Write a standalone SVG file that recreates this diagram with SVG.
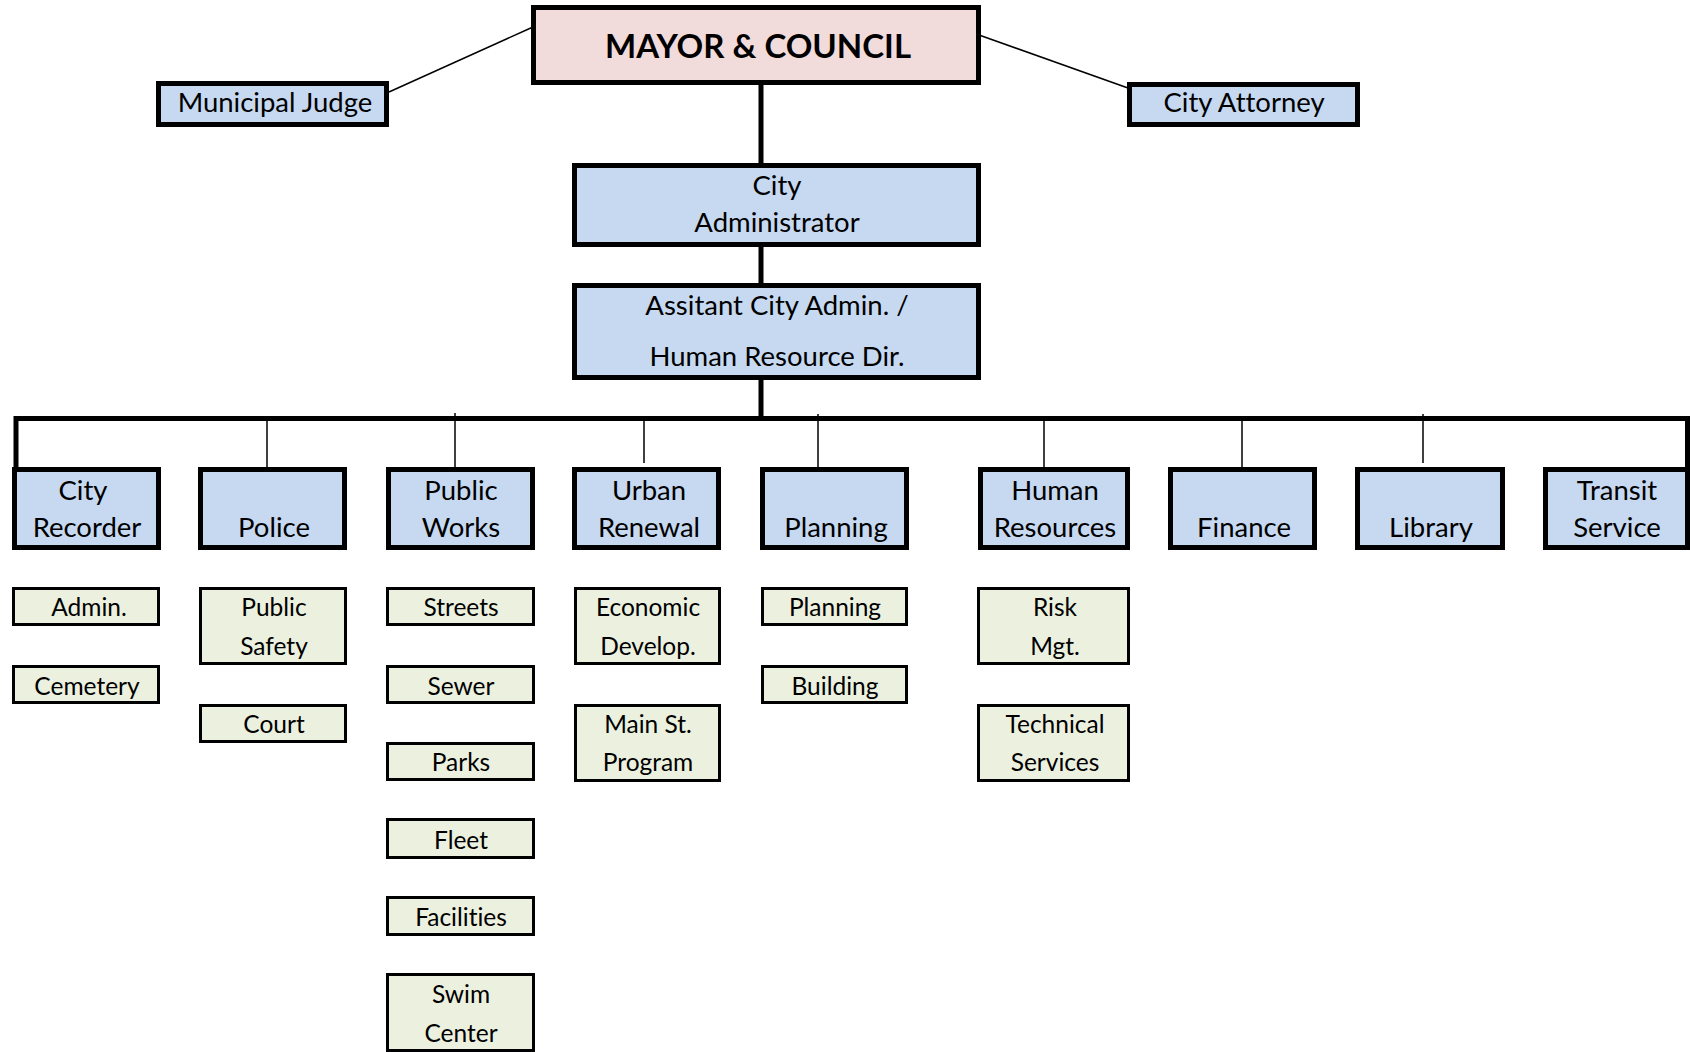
<svg xmlns="http://www.w3.org/2000/svg" width="1690" height="1052" viewBox="0 0 1690 1052">
<style>
.t{font-family:Lato,"Open Sans","Liberation Sans",sans-serif;fill:#000;text-anchor:middle;font-variant-ligatures:none;font-feature-settings:"liga" 0}
.m{font-size:27.5px}
.s{font-size:24.5px}
.b{font-size:33px;font-weight:bold}
.top{fill:#F2DCDB;stroke:#000;stroke-width:5}
.l2{fill:#C6D9F1;stroke:#000;stroke-width:5}
.l3{fill:#EBF1DE;stroke:#000;stroke-width:3}
.thin{stroke:#000;stroke-width:1.5;fill:none}
.thick{stroke:#000;stroke-width:5;fill:none}
</style>
<rect width="1690" height="1052" fill="#fff"/>
<g id="connectors">
<line class="thin" x1="389" y1="92" x2="533" y2="27"/>
<line class="thin" x1="979" y1="35" x2="1128" y2="88"/>
<line class="thick" x1="761" y1="84" x2="761" y2="421"/>
<path class="thick" d="M16 470 V418.5 H1687.5 V470"/>
<line class="thin" x1="267" y1="421" x2="267" y2="468"/>
<line class="thin" x1="455" y1="413" x2="455" y2="468"/>
<line class="thin" x1="644" y1="421" x2="644" y2="463"/>
<line class="thin" x1="818" y1="414" x2="818" y2="468"/>
<line class="thin" x1="1044" y1="421" x2="1044" y2="468"/>
<line class="thin" x1="1242" y1="421" x2="1242" y2="468"/>
<line class="thin" x1="1423" y1="414" x2="1423" y2="463"/>
</g>
<g id="mayor"><rect class="top" x="533.5" y="7.5" width="445" height="75"/><text class="t b" x="758" y="58">MAYOR &amp; COUNCIL</text></g>
<g id="judge"><rect class="l2" x="158.5" y="83.5" width="228" height="41"/><text class="t m" x="275" y="112">Municipal Judge</text></g>
<g id="attorney"><rect class="l2" x="1129.5" y="84.5" width="228" height="40"/><text class="t m" x="1244" y="112">City Attorney</text></g>
<g id="city-admin"><rect class="l2" x="574.5" y="165.5" width="404" height="79"/><text class="t m" x="777" y="195">City</text><text class="t m" x="777" y="232">Administrator</text></g>
<g id="asst-admin"><rect class="l2" x="574.5" y="285.5" width="404" height="92"/><text class="t m" x="777" y="315">Assitant City Admin. /</text><text class="t m" x="777" y="366">Human Resource Dir.</text></g>

<g id="city-recorder"><rect class="l2" x="14.5" y="469.5" width="144" height="78"/><text class="t m" x="83" y="500">City</text><text class="t m" x="87" y="537">Recorder</text></g>
<g id="police"><rect class="l2" x="200.5" y="469.5" width="144" height="78"/><text class="t m" x="274" y="537">Police</text></g>
<g id="public-works"><rect class="l2" x="388.5" y="469.5" width="144" height="78"/><text class="t m" x="461" y="500">Public</text><text class="t m" x="461" y="537">Works</text></g>
<g id="urban-renewal"><rect class="l2" x="574.5" y="469.5" width="144" height="78"/><text class="t m" x="649" y="500">Urban</text><text class="t m" x="649" y="537">Renewal</text></g>
<g id="planning"><rect class="l2" x="762.5" y="469.5" width="144" height="78"/><text class="t m" x="836" y="537">Planning</text></g>
<g id="human-resources"><rect class="l2" x="980.5" y="469.5" width="147" height="78"/><text class="t m" x="1055" y="500">Human</text><text class="t m" x="1055" y="537">Resources</text></g>
<g id="finance"><rect class="l2" x="1170.5" y="469.5" width="144" height="78"/><text class="t m" x="1244" y="537">Finance</text></g>
<g id="library"><rect class="l2" x="1357.5" y="469.5" width="145" height="78"/><text class="t m" x="1431" y="537">Library</text></g>
<g id="transit"><rect class="l2" x="1545.5" y="469.5" width="142" height="78"/><text class="t m" x="1617" y="500">Transit</text><text class="t m" x="1617" y="537">Service</text></g>

<g id="admin"><rect class="l3" x="13.5" y="588.5" width="145" height="36"/><text class="t s" x="89" y="616">Admin.</text></g>
<g id="cemetery"><rect class="l3" x="13.5" y="666.5" width="145" height="36"/><text class="t s" x="87" y="695">Cemetery</text></g>
<g id="public-safety"><rect class="l3" x="200.5" y="588.5" width="145" height="75"/><text class="t s" x="274" y="616">Public</text><text class="t s" x="274" y="655">Safety</text></g>
<g id="court"><rect class="l3" x="200.5" y="705.5" width="145" height="36"/><text class="t s" x="274" y="733">Court</text></g>
<g id="streets"><rect class="l3" x="387.5" y="588.5" width="146" height="36"/><text class="t s" x="461" y="616">Streets</text></g>
<g id="sewer"><rect class="l3" x="387.5" y="666.5" width="146" height="36"/><text class="t s" x="461" y="695">Sewer</text></g>
<g id="parks"><rect class="l3" x="387.5" y="743.5" width="146" height="36"/><text class="t s" x="461" y="771">Parks</text></g>
<g id="fleet"><rect class="l3" x="387.5" y="819.5" width="146" height="38"/><text class="t s" x="461" y="849">Fleet</text></g>
<g id="facilities"><rect class="l3" x="387.5" y="897.5" width="146" height="37"/><text class="t s" x="461" y="926">Facilities</text></g>
<g id="swim-center"><rect class="l3" x="387.5" y="974.5" width="146" height="76"/><text class="t s" x="461" y="1003">Swim</text><text class="t s" x="461" y="1042">Center</text></g>
<g id="economic"><rect class="l3" x="575.5" y="588.5" width="144" height="75"/><text class="t s" x="648" y="616">Economic</text><text class="t s" x="648" y="655">Develop.</text></g>
<g id="main-st"><rect class="l3" x="575.5" y="705.5" width="144" height="75"/><text class="t s" x="648" y="733">Main St.</text><text class="t s" x="648" y="771">Program</text></g>
<g id="planning-sub"><rect class="l3" x="762.5" y="588.5" width="144" height="36"/><text class="t s" x="835" y="616">Planning</text></g>
<g id="building"><rect class="l3" x="762.5" y="666.5" width="144" height="36"/><text class="t s" x="835" y="695">Building</text></g>
<g id="risk"><rect class="l3" x="978.5" y="588.5" width="150" height="75"/><text class="t s" x="1055" y="616">Risk</text><text class="t s" x="1055" y="655">Mgt.</text></g>
<g id="technical"><rect class="l3" x="978.5" y="705.5" width="150" height="75"/><text class="t s" x="1055" y="733">Technical</text><text class="t s" x="1055" y="771">Services</text></g>
</svg>
